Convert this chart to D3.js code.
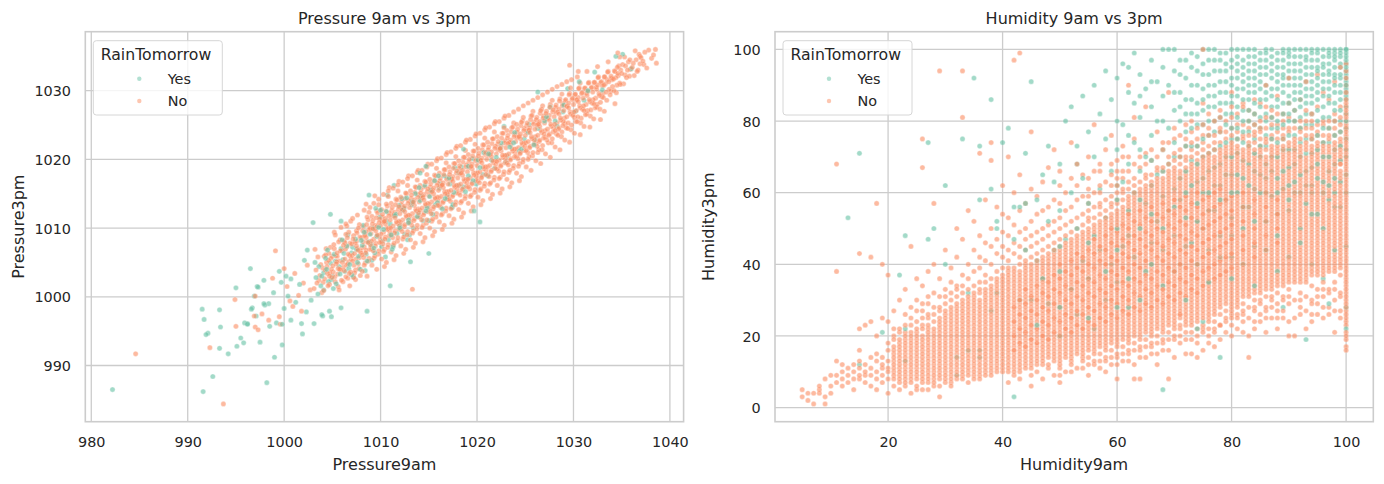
<!DOCTYPE html>
<html>
<head>
<meta charset="utf-8">
<script src="https://cdn.jsdelivr.net/npm/d3@7"></script>
<style>
  body { margin: 0; background: #fff; }
  text { font-family: "DejaVu Sans", sans-serif; fill: #262626; }
</style>
</head>
<body>
<svg width="1384" height="484"></svg>
<script>
// ---- Data ----
const hueLevels = ['Yes', 'No'];

// Pressure panel: [Pressure9am, Pressure3pm]
const pressureYes = [
  [982.2,986.5],[991.6,986.2],[992.6,988.4],[998.2,987.5],[999.0,991.2],[999.8,993.0],[991.5,998.2],[991.7,996.7],
  [991.9,994.5],[992.1,994.7],[993.3,998.1],[993.4,995.6],[993.3,992.5],[994.2,991.7],[995.0,1001.3],[995.1,992.8],
  [995.5,994.0],[995.8,993.3],[995.9,996.2],[996.2,996.1],[996.6,998.2],[997.5,993.4],[997.3,1001.4],[997.9,999.0],
  [998.5,995.7],[998.4,999.0],[999.2,996.2],[1000.0,998.3],[1000.7,996.6],[1001.8,996.1],[1001.9,994.6],[1003.1,996.1],
  [1003.9,997.4],[1004.9,997.1],[1002.3,997.8],[996.5,1004.1],[997.2,1001.5],[997.9,1002.4],[996.9,1000.1],[999.5,1003.7],
  [999.7,1002.1],[1000.7,1002.6],[996.7,998.4],[996.2,996.0],[997.1,997.2],[999.8,996.0],[1004.0,997.2],[1004.7,997.9],
  [1005.9,998.4],[1008.6,997.9],[1011.0,1001.6],[1002.1,1005.3],[1002.4,1006.8],[1003.0,1010.8],[1004.8,1012.0],[1005.9,1011.0],
  [1008.8,1014.8],[1010.7,1014.8],[1011.4,1016.2],[1014.1,1018.0],[1014.7,1019.0],[1015.0,1006.3],[1013.1,1005.1],[1019.7,1012.5],
  [1020.3,1010.9],[998.0,998.8],[1000.4,1000.1],[1001.2,999.2],[1001.6,1001.8],[998.9,1000.6],[1000.2,1003.0],[1002.8,999.5],
  [1003.3,1002.8],[1003.6,1004.4],[1003.8,1001.6],[1004.1,1003.5],[1004.3,1005.6],[1004.6,1002.2],[1004.8,1004.9],[1005.0,1003.0],
  [1005.2,1006.2],[1005.4,1001.9],[1005.7,1004.4],[1005.9,1007.0],[1003.5,1000.4],[1004.5,1006.8],
  [1006.1,1005.4],[1006.3,1003.7],[1006.5,1007.4],[1006.8,1004.7],[1007.0,1006.4],[1007.2,1002.9],[1007.4,1008.4],[1007.7,1005.9],
  [1007.9,1004.0],[1008.1,1007.5],[1008.3,1009.4],[1008.6,1005.2],[1008.8,1008.0],[1006.6,1009.0],[1007.5,1006.9],[1008.4,1003.8],
  [1009.0,1007.6],[1009.2,1010.0],[1009.4,1006.4],[1009.6,1008.8],[1009.9,1011.6],[1010.1,1007.3],[1010.3,1009.8],[1010.6,1012.4],
  [1010.8,1008.3],[1011.0,1010.6],[1011.2,1006.9],[1011.5,1011.8],[1011.7,1009.2],[1009.5,1012.9],[1010.5,1005.8],[1011.9,1013.3],
  [1012.0,1010.4],[1012.3,1012.6],[1012.5,1009.1],[1012.7,1014.4],[1012.9,1011.2],[1013.2,1013.4],[1013.4,1010.0],[1013.6,1015.0],
  [1013.9,1012.2],[1014.1,1014.0],[1014.4,1011.1],[1014.6,1016.2],[1014.8,1013.0],[1012.8,1008.3],
  [1015.1,1014.6],[1015.4,1012.0],[1015.6,1016.9],[1015.9,1013.7],[1016.1,1015.8],[1016.4,1012.8],[1016.6,1017.6],[1016.9,1014.6],
  [1017.2,1016.4],[1017.5,1013.4],[1017.7,1018.8],
  [1018.1,1016.2],[1018.4,1018.9],[1018.8,1015.3],[1019.1,1017.6],[1019.5,1020.1],[1019.9,1016.4],[1020.3,1018.8],[1020.7,1021.0],
  [1021.1,1017.6],[1021.5,1019.9],[1018.6,1021.5],
  [1022.0,1020.3],[1022.5,1022.4],[1023.0,1019.6],[1023.4,1021.8],[1023.9,1023.9],[1024.4,1021.2],[1024.9,1023.0],[1025.4,1025.1],
  [1025.9,1022.1],[1026.3,1024.5],[1026.3,1029.8],[1022.8,1024.8],
  [1027.0,1025.6],[1027.6,1027.6],[1028.3,1024.8],[1028.9,1026.9],[1029.4,1030.3],[1030.6,1031.3],[1031.1,1028.6],[1032.2,1032.7],
  [1033.0,1030.1],[1034.4,1035.0],[1035.1,1035.3],[1036.0,1033.2]
];

const pressureYesBand = [
  [1003.9,1003.0],[1004.4,1004.0],[1004.9,1002.5],[1005.3,1005.2],[1005.8,1003.3],[1006.2,1006.3],[1006.7,1004.1],[1007.1,1007.2],
  [1007.6,1005.0],[1008.0,1008.2],[1008.5,1006.2],[1008.9,1009.1],[1009.3,1007.1],[1009.8,1010.1],[1010.2,1008.1],[1010.6,1011.0],
  [1011.1,1009.0],[1011.6,1012.0],[1012.0,1010.0],[1012.4,1012.9],[1012.9,1010.8],[1013.3,1013.8],[1013.8,1011.7],[1014.2,1014.6],
  [1014.7,1012.5],[1015.2,1015.5],[1015.7,1013.4],[1016.2,1016.4],[1016.7,1014.3],[1017.1,1017.3],[1017.6,1015.2],[1018.1,1018.1],
  [1018.6,1016.0],[1019.1,1019.0],[1019.6,1016.9],[1020.1,1019.9],[1020.6,1017.8],[1021.2,1020.8],[1021.8,1018.7],[1022.4,1021.6],
  [1023.1,1020.5],[1023.8,1022.4],[1024.6,1021.5],[1025.3,1023.9],[1026.0,1022.9],[1027.2,1026.2],[1028.1,1025.6],[1029.0,1027.9],
  [1030.2,1027.0],[1031.5,1030.0],
  [1003.2,1005.0],[1004.1,1001.0],[1005.1,1001.2],[1006.0,1008.3],[1007.0,1003.2],[1008.2,1010.4],[1009.1,1005.3],[1010.0,1012.6],
  [1011.3,1007.3],[1012.2,1014.3],[1013.0,1009.0],[1014.0,1015.9],[1015.0,1011.1],[1016.0,1017.6],[1017.4,1013.0]
];

const pressureNo = [
  [984.6,991.7],[992.3,992.6],[993.7,984.4],[994.9,999.6],[995.0,995.7],[996.9,997.2],[997.0,995.6],[997.3,995.2],
  [997.0,1000.1],[997.7,997.5],[998.4,996.6],[999.5,997.1],[999.6,996.0],[999.1,1006.7],[1000.0,1004.1],[998.8,1002.7],
  [1000.3,1001.5],[1001.1,1003.4],[1000.6,999.4],[1001.5,1000.2],[1002.0,1002.0],[1002.4,1004.6],[1001.8,997.9],[1002.7,1001.0],
  [1000.9,998.6],
  [1003.1,1001.2],[1003.3,1003.9],[1003.5,1005.8],[1003.6,1002.4],[1003.8,1004.7],[1003.9,1000.6],[1003.2,1006.9],[1003.7,1003.1],[1003.4,1002.0],
  [1004.0,1004.2],[1004.2,1002.6],[1004.3,1006.1],[1004.5,1003.4],[1004.6,1005.3],[1004.7,1001.8],[1004.8,1007.2],[1004.9,1004.0],[1004.1,1000.9],[1004.4,1005.0],[1004.7,1003.0],
  [1005.0,1005.9],[1005.1,1003.6],[1005.2,1007.0],[1005.3,1002.2],[1005.4,1004.8],[1005.5,1006.4],[1005.6,1001.5],[1005.7,1005.2],[1005.8,1008.3],[1005.9,1003.9],[1005.3,1009.0],[1005.6,1004.1],
  [1006.0,1006.7],[1006.1,1004.3],[1006.2,1008.1],[1006.3,1005.5],[1006.4,1002.9],[1006.5,1007.3],[1006.6,1004.8],[1006.7,1009.4],[1006.8,1006.0],[1006.9,1003.6],[1006.3,1007.9],[1006.7,1005.1],[1006.5,1010.3],
  [1007.0,1007.7],[1007.1,1005.2],[1007.2,1008.9],[1007.3,1006.3],[1007.4,1003.9],[1007.5,1009.6],[1007.6,1007.0],[1007.7,1004.8],[1007.8,1010.5],[1007.9,1006.6],[1007.2,1002.8],[1007.5,1008.1],[1007.8,1005.7],
  [1008.0,1008.6],[1008.1,1006.1],[1008.2,1010.2],[1008.3,1007.3],[1008.4,1004.9],[1008.5,1009.5],[1008.6,1011.6],[1008.7,1007.9],[1008.8,1005.6],[1008.9,1010.0],[1008.2,1008.0],[1008.5,1006.8],[1008.8,1012.3],[1008.4,1009.0],
  [1009.0,1009.2],[1009.1,1007.0],[1009.2,1011.1],[1009.3,1008.4],[1009.4,1005.9],[1009.5,1010.4],[1009.6,1012.5],[1009.7,1008.9],[1009.8,1006.7],[1009.9,1011.3],[1009.2,1009.9],[1009.5,1007.8],[1009.8,1013.4],[1009.6,1010.2],
  [1010.0,1010.3],[1010.1,1008.0],[1010.2,1012.0],[1010.3,1009.4],[1010.4,1006.9],[1010.5,1011.4],[1010.6,1013.5],[1010.7,1009.8],[1010.8,1007.6],[1010.9,1012.2],[1010.2,1010.9],[1010.5,1008.7],[1010.8,1014.6],[1010.4,1011.0],[1010.9,1010.1],
  [1011.0,1011.2],[1011.1,1009.0],[1011.2,1013.0],[1011.3,1010.3],[1011.4,1007.8],[1011.5,1012.3],[1011.6,1014.2],[1011.7,1010.7],[1011.8,1008.6],[1011.9,1013.1],[1011.2,1011.8],[1011.5,1009.6],[1011.8,1015.4],[1011.4,1012.0],[1011.9,1011.0],
  [1012.0,1012.1],[1012.1,1009.9],[1012.2,1013.9],[1012.3,1011.2],[1012.4,1008.7],[1012.5,1013.2],[1012.6,1015.1],[1012.7,1011.6],[1012.8,1009.5],[1012.9,1014.0],[1012.2,1012.7],[1012.5,1010.5],[1012.8,1016.2],[1012.4,1012.9],[1012.9,1011.9],
  [1013.0,1013.0],[1013.1,1010.8],[1013.2,1014.8],[1013.3,1012.1],[1013.4,1009.6],[1013.5,1014.1],[1013.6,1016.0],[1013.7,1012.5],[1013.8,1010.4],[1013.9,1014.9],[1013.2,1013.6],[1013.5,1011.4],[1013.8,1017.0],[1013.4,1013.8],[1013.9,1012.8],[1013.3,1001.1],
  [1014.0,1013.8],[1014.1,1011.6],[1014.2,1015.6],[1014.3,1012.9],[1014.4,1010.4],[1014.5,1014.9],[1014.6,1016.8],[1014.7,1013.3],[1014.8,1011.2],[1014.9,1015.7],[1014.2,1014.4],[1014.5,1012.2],[1014.8,1017.8],[1014.4,1014.6],[1014.9,1013.6],
  [1015.0,1014.7],[1015.1,1012.5],[1015.2,1016.5],[1015.3,1013.8],[1015.4,1011.3],[1015.5,1015.8],[1015.6,1017.7],[1015.7,1014.2],[1015.8,1012.1],[1015.9,1016.6],[1015.2,1015.3],[1015.5,1013.1],[1015.8,1018.7],[1015.4,1015.5],[1015.9,1014.5],
  [1016.0,1015.5],[1016.1,1013.3],[1016.2,1017.3],[1016.3,1014.6],[1016.4,1012.1],[1016.5,1016.6],[1016.6,1018.5],[1016.7,1015.0],[1016.8,1012.9],[1016.9,1017.4],[1016.2,1016.1],[1016.5,1013.9],[1016.8,1019.5],[1016.4,1016.3],[1016.9,1015.3],
  [1017.0,1016.4],[1017.1,1014.2],[1017.2,1018.2],[1017.3,1015.5],[1017.4,1013.0],[1017.5,1017.5],[1017.6,1019.4],[1017.7,1015.9],[1017.8,1013.8],[1017.9,1018.3],[1017.2,1017.0],[1017.5,1014.8],[1017.8,1020.4],[1017.4,1017.2],[1017.9,1016.2],
  [1018.0,1017.3],[1018.1,1015.1],[1018.2,1019.1],[1018.3,1016.4],[1018.4,1013.9],[1018.5,1018.4],[1018.6,1020.3],[1018.7,1016.8],[1018.8,1014.7],[1018.9,1019.2],[1018.2,1017.9],[1018.5,1015.7],[1018.8,1021.3],[1018.4,1018.1],[1018.9,1017.1],
  [1019.0,1018.2],[1019.1,1016.0],[1019.2,1020.0],[1019.3,1017.3],[1019.4,1014.8],[1019.5,1019.3],[1019.6,1021.2],[1019.7,1017.7],[1019.8,1015.6],[1019.9,1020.1],[1019.2,1018.8],[1019.5,1016.6],[1019.8,1022.2],[1019.4,1019.0],[1019.9,1018.0],
  [1020.0,1019.1],[1020.1,1016.9],[1020.2,1020.9],[1020.3,1018.2],[1020.4,1015.7],[1020.5,1020.2],[1020.6,1022.1],[1020.7,1018.6],[1020.8,1016.5],[1020.9,1021.0],[1020.2,1019.7],[1020.5,1017.5],[1020.8,1023.1],[1020.4,1019.9],[1020.9,1018.9],
  [1021.0,1020.0],[1021.1,1017.8],[1021.2,1021.8],[1021.3,1019.1],[1021.4,1016.6],[1021.5,1021.1],[1021.6,1023.0],[1021.7,1019.5],[1021.8,1017.4],[1021.9,1021.9],[1021.2,1020.6],[1021.5,1018.4],[1021.8,1024.0],[1021.4,1020.8],[1021.9,1019.8],
  [1022.0,1020.8],[1022.1,1018.6],[1022.2,1022.6],[1022.3,1019.9],[1022.4,1017.4],[1022.5,1021.9],[1022.6,1023.8],[1022.7,1020.3],[1022.8,1018.2],[1022.9,1022.7],[1022.2,1021.4],[1022.5,1019.2],[1022.8,1024.6],[1022.4,1021.6],[1022.9,1020.6],
  [1023.0,1021.7],[1023.1,1019.5],[1023.2,1023.5],[1023.3,1020.8],[1023.4,1018.4],[1023.5,1022.8],[1023.6,1024.6],[1023.7,1021.2],[1023.8,1019.1],[1023.9,1023.6],[1023.2,1022.3],[1023.5,1020.1],[1023.8,1025.3],[1023.4,1022.5],[1023.9,1021.5],
  [1024.0,1022.6],[1024.1,1020.4],[1024.2,1024.4],[1024.3,1021.7],[1024.4,1019.4],[1024.5,1023.7],[1024.6,1025.4],[1024.7,1022.1],[1024.8,1020.0],[1024.9,1024.5],[1024.2,1023.2],[1024.5,1021.0],[1024.8,1026.1],[1024.4,1023.4],[1024.9,1022.4],
  [1025.0,1023.5],[1025.1,1021.3],[1025.2,1025.3],[1025.3,1022.6],[1025.4,1020.4],[1025.5,1024.6],[1025.6,1026.3],[1025.7,1023.0],[1025.8,1021.0],[1025.9,1025.4],[1025.2,1024.1],[1025.5,1021.9],[1025.8,1027.0],[1025.4,1024.3],
  [1026.0,1024.4],[1026.1,1022.3],[1026.2,1026.1],[1026.3,1023.5],[1026.4,1021.4],[1026.5,1025.5],[1026.6,1027.1],[1026.7,1023.9],[1026.8,1022.0],[1026.9,1026.3],[1026.2,1025.0],[1026.5,1022.8],[1026.8,1027.8],[1026.4,1025.2],
  [1027.0,1025.3],[1027.1,1023.2],[1027.2,1027.0],[1027.3,1024.4],[1027.4,1022.4],[1027.5,1026.4],[1027.6,1028.0],[1027.7,1024.8],[1027.8,1023.0],[1027.9,1027.2],[1027.2,1025.9],[1027.5,1023.7],[1027.8,1028.6],
  [1028.0,1026.2],[1028.1,1024.2],[1028.2,1027.9],[1028.3,1025.3],[1028.4,1023.5],[1028.5,1027.3],[1028.6,1028.8],[1028.7,1025.7],[1028.8,1024.0],[1028.9,1028.1],[1028.2,1026.8],[1028.5,1024.6],[1028.8,1029.5],
  [1029.0,1027.1],[1029.1,1025.2],[1029.2,1028.7],[1029.3,1026.2],[1029.4,1024.5],[1029.5,1028.2],[1029.6,1029.6],[1029.7,1026.6],[1029.8,1025.0],[1029.9,1028.9],[1029.3,1027.7],[1029.7,1030.4],[1029.6,1033.7],
  [1030.0,1028.0],[1030.1,1026.1],[1030.2,1029.5],[1030.3,1027.1],[1030.4,1025.5],[1030.5,1029.0],[1030.6,1030.4],[1030.7,1027.5],[1030.8,1026.0],[1030.9,1029.7],[1030.3,1028.6],[1030.7,1031.1],[1030.5,1032.8],
  [1031.0,1028.9],[1031.1,1027.1],[1031.2,1030.4],[1031.3,1028.0],[1031.4,1026.6],[1031.5,1029.9],[1031.6,1031.2],[1031.7,1028.4],[1031.8,1027.2],[1031.9,1030.5],[1031.4,1029.3],
  [1032.0,1029.8],[1032.1,1028.1],[1032.2,1031.2],[1032.3,1028.9],[1032.4,1027.6],[1032.5,1030.8],[1032.6,1032.0],[1032.7,1029.3],[1032.8,1028.3],[1032.9,1031.3],[1032.4,1030.2],
  [1033.0,1030.7],[1033.1,1029.0],[1033.2,1032.0],[1033.4,1029.8],[1033.5,1031.6],[1033.6,1032.8],[1033.7,1030.2],[1033.8,1029.4],[1033.9,1032.1],[1033.3,1031.0],
  [1034.0,1031.6],[1034.2,1030.0],[1034.3,1032.8],[1034.5,1030.8],[1034.6,1032.5],[1034.7,1033.6],[1034.8,1031.1],[1034.9,1033.0],[1034.4,1031.9],[1034.6,1035.5],
  [1035.0,1032.5],[1035.2,1031.0],[1035.4,1033.6],[1035.5,1031.9],[1035.7,1034.2],[1035.8,1032.1],[1035.9,1033.1],[1035.3,1034.9],
  [1036.1,1033.4],[1036.3,1032.2],[1036.5,1034.5],[1036.7,1033.0],[1036.8,1035.3],[1036.4,1035.8],[1036.9,1033.9],
  [1037.2,1034.3],[1037.4,1035.6],[1037.6,1033.3],[1037.8,1035.9],[1038.1,1034.7],[1038.3,1035.2],[1038.6,1034.0],[1038.5,1036.0]
];

const pressureNoBand = [
  [1004.05,1002.1],[1004.15,1005.9],[1004.25,1003.9],[1004.35,1007.0],[1004.45,1004.4],[1004.55,1001.6],[1004.65,1006.3],[1004.75,1003.5],[1004.85,1005.6],[1004.95,1002.8],
  [1005.05,1004.5],[1005.15,1007.6],[1005.25,1002.9],[1005.35,1006.0],[1005.45,1005.1],[1005.55,1003.3],[1005.65,1008.0],[1005.75,1004.0],[1005.85,1006.7],[1005.95,1002.4],[1005.5,1005.9],
  [1006.05,1005.0],[1006.15,1007.5],[1006.25,1003.8],[1006.35,1006.9],[1006.45,1004.6],[1006.55,1008.6],[1006.65,1006.2],[1006.75,1003.4],[1006.85,1007.8],[1006.95,1005.5],[1006.4,1009.1],[1006.6,1002.7],
  [1007.05,1006.0],[1007.15,1008.4],[1007.25,1004.6],[1007.35,1007.9],[1007.45,1005.5],[1007.55,1009.3],[1007.65,1006.8],[1007.75,1004.1],[1007.85,1008.7],[1007.95,1006.4],[1007.3,1003.5],[1007.7,1010.0],[1007.5,1007.4],
  [1008.05,1007.1],[1008.15,1009.6],[1008.25,1005.7],[1008.35,1008.9],[1008.45,1006.4],[1008.55,1010.5],[1008.65,1008.0],[1008.75,1005.2],[1008.85,1009.8],[1008.95,1007.5],[1008.3,1004.6],[1008.7,1011.2],[1008.5,1008.6],[1008.9,1006.9],
  [1009.05,1008.1],[1009.15,1010.6],[1009.25,1006.7],[1009.35,1009.9],[1009.45,1007.4],[1009.55,1011.5],[1009.65,1009.0],[1009.75,1006.2],[1009.85,1010.8],[1009.95,1008.5],[1009.3,1005.6],[1009.7,1012.2],[1009.5,1009.6],[1009.9,1007.9],[1009.1,1011.7],
  [1010.05,1009.1],[1010.15,1011.6],[1010.25,1007.7],[1010.35,1010.9],[1010.45,1008.4],[1010.55,1012.5],[1010.65,1010.0],[1010.75,1007.2],[1010.85,1011.8],[1010.95,1009.5],[1010.3,1006.6],[1010.7,1013.2],[1010.5,1010.6],[1010.9,1008.9],[1010.1,1012.7],
  [1011.05,1010.0],[1011.15,1012.5],[1011.25,1008.6],[1011.35,1011.8],[1011.45,1009.3],[1011.55,1013.4],[1011.65,1010.9],[1011.75,1008.1],[1011.85,1012.7],[1011.95,1010.4],[1011.3,1007.5],[1011.7,1014.1],[1011.5,1011.5],[1011.9,1009.8],[1011.1,1013.6],
  [1012.05,1010.9],[1012.15,1013.4],[1012.25,1009.5],[1012.35,1012.7],[1012.45,1010.2],[1012.55,1014.3],[1012.65,1011.8],[1012.75,1009.0],[1012.85,1013.6],[1012.95,1011.3],[1012.3,1008.4],[1012.7,1015.0],[1012.5,1012.4],[1012.9,1010.7],[1012.1,1014.5],
  [1013.05,1011.8],[1013.15,1014.3],[1013.25,1010.4],[1013.35,1013.6],[1013.45,1011.1],[1013.55,1015.2],[1013.65,1012.7],[1013.75,1009.9],[1013.85,1014.5],[1013.95,1012.2],[1013.3,1009.3],[1013.7,1015.9],[1013.5,1013.3],[1013.9,1011.6],[1013.1,1015.4],
  [1014.05,1012.6],[1014.15,1015.1],[1014.25,1011.2],[1014.35,1014.4],[1014.45,1011.9],[1014.55,1016.0],[1014.65,1013.5],[1014.75,1010.7],[1014.85,1015.3],[1014.95,1013.0],[1014.3,1010.1],[1014.7,1016.7],[1014.5,1014.1],[1014.9,1012.4],[1014.1,1016.2],
  [1015.05,1013.5],[1015.15,1016.0],[1015.25,1012.1],[1015.35,1015.3],[1015.45,1012.8],[1015.55,1016.9],[1015.65,1014.4],[1015.75,1011.6],[1015.85,1016.2],[1015.95,1013.9],[1015.3,1011.0],[1015.7,1017.6],[1015.5,1015.0],[1015.9,1013.3],[1015.1,1017.1],
  [1016.05,1014.4],[1016.15,1016.9],[1016.25,1013.0],[1016.35,1016.2],[1016.45,1013.7],[1016.55,1017.8],[1016.65,1015.3],[1016.75,1012.5],[1016.85,1017.1],[1016.95,1014.8],[1016.3,1011.9],[1016.7,1018.5],[1016.5,1015.9],[1016.9,1014.2],[1016.1,1018.0],
  [1017.05,1015.3],[1017.15,1017.8],[1017.25,1013.9],[1017.35,1017.1],[1017.45,1014.6],[1017.55,1018.7],[1017.65,1016.2],[1017.75,1013.4],[1017.85,1018.0],[1017.95,1015.7],[1017.3,1012.8],[1017.7,1019.4],[1017.5,1016.8],[1017.9,1015.1],[1017.1,1018.9],
  [1018.05,1016.2],[1018.15,1018.7],[1018.25,1014.8],[1018.35,1018.0],[1018.45,1015.5],[1018.55,1019.6],[1018.65,1017.1],[1018.75,1014.3],[1018.85,1018.9],[1018.95,1016.6],[1018.3,1013.7],[1018.7,1020.3],[1018.5,1017.7],[1018.9,1016.0],[1018.1,1019.8],
  [1019.05,1017.1],[1019.15,1019.6],[1019.25,1015.7],[1019.35,1018.9],[1019.45,1016.4],[1019.55,1020.5],[1019.65,1018.0],[1019.75,1015.2],[1019.85,1019.8],[1019.95,1017.5],[1019.3,1014.6],[1019.7,1021.2],[1019.5,1018.6],[1019.9,1016.9],[1019.1,1020.7],
  [1020.05,1018.0],[1020.15,1020.5],[1020.25,1016.6],[1020.35,1019.8],[1020.45,1017.3],[1020.55,1021.4],[1020.65,1018.9],[1020.75,1016.1],[1020.85,1020.7],[1020.95,1018.4],[1020.3,1015.5],[1020.7,1022.1],[1020.5,1019.5],[1020.9,1017.8],[1020.1,1021.6],
  [1021.05,1018.9],[1021.15,1021.4],[1021.25,1017.5],[1021.35,1020.7],[1021.45,1018.2],[1021.55,1022.3],[1021.65,1019.8],[1021.75,1017.0],[1021.85,1021.6],[1021.95,1019.3],[1021.3,1016.4],[1021.7,1023.0],[1021.5,1020.4],[1021.9,1018.7],[1021.1,1022.5],
  [1022.05,1019.7],[1022.15,1022.2],[1022.25,1018.3],[1022.35,1021.5],[1022.45,1019.0],[1022.55,1023.1],[1022.65,1020.6],[1022.75,1017.8],[1022.85,1022.4],[1022.95,1020.1],[1022.3,1017.2],[1022.7,1023.8],[1022.5,1021.2],[1022.9,1019.5],[1022.1,1023.3],
  [1023.05,1020.6],[1023.15,1023.1],[1023.25,1019.2],[1023.35,1022.4],[1023.45,1019.9],[1023.55,1024.0],[1023.65,1021.5],[1023.75,1018.7],[1023.85,1023.3],[1023.95,1021.0],[1023.3,1018.1],[1023.7,1024.7],[1023.5,1022.1],[1023.9,1020.4],[1023.1,1024.2],
  [1024.05,1021.5],[1024.15,1024.0],[1024.25,1020.1],[1024.35,1023.3],[1024.45,1020.8],[1024.55,1024.9],[1024.65,1022.4],[1024.75,1019.6],[1024.85,1024.2],[1024.95,1021.9],[1024.3,1019.0],[1024.7,1025.6],[1024.5,1023.0],[1024.9,1021.3],[1024.1,1025.1],
  [1025.05,1022.4],[1025.15,1024.9],[1025.25,1021.0],[1025.35,1024.2],[1025.45,1021.7],[1025.55,1025.8],[1025.65,1023.3],[1025.75,1020.5],[1025.85,1025.1],[1025.95,1022.8],[1025.3,1020.0],[1025.7,1026.4],[1025.5,1023.9],[1025.9,1022.2],
  [1026.05,1023.3],[1026.15,1025.8],[1026.25,1021.9],[1026.35,1025.1],[1026.45,1022.6],[1026.55,1026.7],[1026.65,1024.2],[1026.75,1021.4],[1026.85,1026.0],[1026.95,1023.7],[1026.3,1021.0],[1026.7,1027.3],[1026.5,1024.8],[1026.9,1023.1],
  [1027.05,1024.2],[1027.15,1026.7],[1027.25,1022.8],[1027.35,1026.0],[1027.45,1023.5],[1027.55,1027.6],[1027.65,1025.1],[1027.75,1022.4],[1027.85,1026.9],[1027.95,1024.6],[1027.5,1025.7],[1027.9,1024.0],
  [1028.05,1025.1],[1028.15,1027.6],[1028.25,1023.7],[1028.35,1026.9],[1028.45,1024.4],[1028.55,1028.5],[1028.65,1026.0],[1028.75,1023.3],[1028.85,1027.8],[1028.95,1025.5],[1028.5,1026.6],[1028.9,1024.9],
  [1029.05,1026.0],[1029.15,1028.5],[1029.25,1024.6],[1029.35,1027.8],[1029.45,1025.3],[1029.55,1029.4],[1029.65,1026.9],[1029.75,1024.3],[1029.85,1028.7],[1029.95,1026.4],[1029.5,1027.5],
  [1030.05,1026.9],[1030.15,1029.4],[1030.25,1025.5],[1030.35,1028.7],[1030.45,1026.2],[1030.55,1030.3],[1030.65,1027.8],[1030.75,1025.3],[1030.85,1029.6],[1030.95,1027.3],[1030.5,1028.4],
  [1031.05,1027.8],[1031.15,1030.3],[1031.25,1026.5],[1031.35,1029.6],[1031.45,1027.1],[1031.55,1031.1],[1031.65,1028.7],[1031.75,1026.3],[1031.85,1030.4],[1031.95,1028.2],
  [1032.05,1028.7],[1032.15,1031.2],[1032.25,1027.5],[1032.35,1030.5],[1032.45,1028.0],[1032.55,1031.9],[1032.65,1029.6],[1032.75,1027.3],[1032.85,1031.2],[1032.95,1029.1],
  [1033.05,1029.6],[1033.25,1032.0],[1033.45,1028.6],[1033.65,1031.3],[1033.85,1029.9],[1033.55,1032.7],[1033.15,1030.8],[1033.95,1031.8],
  [1034.05,1030.6],[1034.25,1032.9],[1034.45,1029.7],[1034.65,1032.2],[1034.85,1030.9],[1034.55,1033.4],[1034.15,1031.7],
  [1035.1,1033.8],[1035.35,1032.3],[1035.6,1033.0],[1035.85,1034.5],[1036.2,1034.0],[1036.6,1032.8],[1036.9,1035.0],[1037.3,1033.8],[1037.0,1034.8]
];

// outer rim of the pressure band
const pressureNoEdge = [
  [1005.2,1009.4],[1005.7,1001.0],[1005.9,1010.1],[1006.1,1002.2],[1006.4,1010.6],[1006.8,1001.6],[1006.9,1011.0],
  [1007.1,1011.4],[1007.4,1002.5],[1007.6,1011.9],[1007.9,1003.1],[1008.1,1003.7],[1008.3,1012.6],[1008.6,1003.0],[1008.9,1013.0],[1008.5,1013.5],
  [1009.1,1004.6],[1009.3,1013.6],[1009.6,1004.0],[1009.8,1014.2],[1009.4,1014.7],
  [1010.1,1005.5],[1010.3,1014.9],[1010.6,1005.0],[1010.8,1015.4],[1010.4,1004.4],[1010.9,1015.9],
  [1011.1,1006.5],[1011.3,1015.8],[1011.6,1006.0],[1011.8,1016.3],[1011.4,1005.4],[1011.9,1016.8],
  [1012.1,1007.4],[1012.3,1016.7],[1012.6,1006.9],[1012.8,1017.2],[1012.4,1006.3],[1012.9,1017.6],
  [1013.1,1008.3],[1013.3,1017.6],[1013.6,1007.8],[1013.8,1018.1],[1013.4,1007.2],[1013.9,1018.4],
  [1014.1,1009.2],[1014.3,1018.4],[1014.6,1008.6],[1014.8,1018.9],[1014.4,1008.0],[1014.9,1019.3],
  [1015.1,1010.0],[1015.3,1019.3],[1015.6,1009.5],[1015.8,1019.8],[1015.4,1008.9],[1015.9,1020.1],
  [1016.1,1010.9],[1016.3,1020.2],[1016.6,1010.4],[1016.8,1020.7],[1016.4,1009.8],[1016.9,1021.0],
  [1017.1,1011.8],[1017.3,1021.1],[1017.6,1011.3],[1017.8,1021.6],[1017.4,1010.7],[1017.9,1021.9],
  [1018.1,1012.7],[1018.3,1022.0],[1018.6,1012.2],[1018.8,1022.5],[1018.4,1011.6],[1018.9,1022.8],
  [1019.1,1013.6],[1019.3,1022.9],[1019.6,1013.1],[1019.8,1023.4],[1019.4,1012.5],[1019.9,1023.7],
  [1020.1,1014.5],[1020.3,1023.8],[1020.6,1014.0],[1020.8,1024.3],[1020.4,1013.4],[1020.9,1024.6],
  [1021.1,1015.4],[1021.3,1024.7],[1021.6,1014.9],[1021.8,1025.2],[1021.4,1014.3],[1021.9,1025.5],
  [1022.1,1016.2],[1022.3,1025.5],[1022.6,1015.7],[1022.8,1026.0],[1022.4,1015.1],[1022.9,1026.3],
  [1023.1,1017.1],[1023.3,1026.4],[1023.6,1016.6],[1023.8,1026.9],[1023.4,1016.0],
  [1024.1,1018.0],[1024.3,1027.3],[1024.6,1017.5],[1024.8,1027.8],[1024.4,1016.9],
  [1025.1,1018.9],[1025.3,1028.2],[1025.6,1018.4],[1025.8,1028.6],[1026.1,1019.8],[1026.3,1029.0],[1026.6,1019.4],[1026.8,1029.4],
  [1027.1,1020.8],[1027.3,1029.8],[1027.6,1020.3],[1027.8,1030.2],[1028.1,1021.8],[1028.3,1030.6],[1028.6,1021.4],[1028.8,1030.9],
  [1029.1,1022.8],[1029.3,1031.3],[1029.6,1022.5],[1029.8,1031.6],[1030.1,1023.8],[1030.4,1032.0],[1030.7,1023.6],
  [1031.1,1024.8],[1031.4,1032.8],[1031.7,1024.7],[1032.1,1025.9],[1032.5,1033.5],[1032.8,1025.8],
  [1033.2,1027.0],[1033.6,1034.2],[1034.3,1028.1],[1034.8,1034.9]
];

// Humidity panel: [Humidity9am, Humidity3pm values seen in that column]
const humidityYes = [
  [13,[53]],[15,[12,71]],[19,[21]],[22,[37]],[23,[13,22,48]],[27,[47,74]],[28,[50]],[30,[40,62]],[32,[9,14]],
  [33,[75]],[34,[16,32]],[35,[92]],[36,[14,16,58,73]],[38,[27,61,86]],[39,[32,50,52]],[40,[74]],[41,[78]],
  [42,[3,47,56]],[43,[30,56]],[44,[44,57,71]],[45,[91]],[46,[23,41,58]],[47,[36,65]],[48,[29,52,73]],[49,[44,63]],
  [50,[20,38,55,68]],[51,[47,80]],[52,[33,60,84]],[53,[26,50,68,73]],[54,[41,64,87]],[55,[36,57,77]],
  [56,[22,48,70,90]],[57,[44,61,82]],[58,[30,53,75,94]],[59,[40,66,86]],[60,[35,50,58,72,92]],[61,[45,63,79,96]],
  [62,[28,55,68,88]],[63,[42,60,74,85,99]],[64,[50,66,81,93]],[65,[38,57,70,89]],[66,[46,62,76,84,97]],
  [67,[52,65,80,91]],[68,[5,44,59,72,87,95]],[69,[55,68,78,90,100]],[70,[48,61,74,83,94]],[71,[40,58,70,80,88,97]],
  [72,[53,66,77,86,92]],[73,[46,62,73,82,90,99]],[74,[22,57,68,79,85,94]],[75,[24,50,64,75,83,89,96]],
  [76,[44,60,71,80,87,93,100]],[77,[55,67,77,84,90,97]],[78,[14,48,62,73,81,88,94,99]],[79,[58,70,79,85,91,96]],
  [80,[42,53,65,75,82,87,92,97,100]],[81,[60,71,78,84,89,94,98]],[82,[50,64,74,80,86,91,95,100]],
  [83,[56,68,77,83,88,92,96]],[84,[45,61,71,79,85,90,94,98]],[85,[65,73,81,86,91,95,99]],
  [86,[52,68,76,82,88,93,97,100]],[87,[59,70,78,84,89,94,98]],[88,[48,64,74,80,86,91,95,99]],
  [89,[28,61,72,79,85,90,93,97,100]],[90,[55,67,76,82,87,92,96,99]],[91,[63,72,80,86,90,94,98]],
  [92,[50,60,70,78,84,88,92,96,100]],[93,[19,57,66,75,82,87,91,95,98]],[94,[62,71,79,85,89,93,97,100]],
  [95,[54,68,76,83,88,92,95,99]],[96,[60,70,78,84,89,93,96,100]],[97,[29,58,66,74,81,87,91,94,98,100]],
  [98,[64,72,80,85,90,93,97,99]],[99,[56,69,77,83,88,92,95,98,100]],
  [100,[22,28,45,60,70,78,82,86,89,91,93,95,97,98,99,100]]
];

const humidityYesTop = [
  [60,[62,80]],[62,[76,95]],[64,[72,87]],[66,[69,91]],[68,[66,80,100]],[70,[70,88,100]],[71,[64,84,93]],
  [72,[60,73,82,97]],[73,[69,78,86,95]],[74,[63,73,82,90,98]],[75,[60,70,79,86,93,100]],[76,[66,76,84,90,97]],
  [77,[62,72,80,87,94,100]],[78,[68,77,85,91,97]],[79,[65,74,82,88,94,99]],[80,[60,70,78,85,90,95]],
  [81,[65,75,81,87,92,96,100]],[82,[69,77,83,89,93,97]],[83,[62,73,80,86,90,94,98,100]],[84,[66,75,82,88,92,96,100]],
  [85,[60,70,78,84,89,93,97]],[86,[64,73,80,86,90,95,99]],[87,[66,75,81,87,92,96,100]],[88,[60,70,78,84,89,93,97]],
  [89,[66,75,82,88,92,95,99]],[90,[62,72,80,85,90,94,98,100]],[91,[60,68,76,83,88,92,96,100]],[92,[65,74,81,86,90,94,98]],
  [93,[62,71,79,85,89,93,97,100]],[94,[60,67,75,82,87,91,95,99]],[95,[64,72,80,86,90,94,97,100]],[96,[63,74,81,87,91,95,98]],
  [97,[62,70,78,85,89,93,96,99]],[98,[60,68,76,83,88,92,95,98,100]],[99,[63,73,80,86,90,93,96,99]],
  [100,[65,72,75,80,84,87,88,90,92,94,96,100]]
];

const humidityYesMid = [
  [45,[30]],[50,[28,45]],[55,[25,46]],[58,[38]],[60,[28,44]],[62,[36,48]],[64,[30,58]],[66,[40,54]],[68,[34,50]],
  [70,[38,56]],[72,[30,45]],[74,[40,52]],[76,[35,55]],[78,[42,58]],[80,[36,48]],[82,[40,56]],[84,[34,52]],
  [86,[44,60]],[88,[38,54]],[90,[42,58]],[92,[46]],[94,[40,54]],[96,[36,50]],[98,[44,56]]
];

const humidityNo = [
  [5,[3,5]],[6,[2,4]],[7,[1,4]],[8,[4,5,6]],[9,[1,3,8]],[10,[4,6,9]],[11,[7,9,13,38,68]],[12,[6,8,10,12]],
  [13,[7,9,11]],[14,[5,8,10,12]],[15,[8,9,11,13,16,22,43]],[16,[7,9,10,12,23]],[17,[6,9,11,14,24,42]],
  [18,[5,8,10,13,15,20,57]],[19,[7,9,11,12,14,25,40]],[20,[4,8,10,11,13,16,18,24,37]],
  [21,[6,9,11,12,14,17,20,27]],[22,[5,8,10,13,15,16,19,22,30]],[23,[7,9,11,12,14,17,18,21,26,33]],
  [24,[4,8,10,13,15,16,19,20,23,28,45]],[25,[6,9,11,12,14,17,18,21,24,30,36]],
  [26,[5,8,10,13,15,16,19,22,25,27,34,67,75]],[27,[7,9,11,12,14,17,18,20,23,26,29,38]],
  [28,[6,8,10,13,15,16,19,21,24,28,32,40,57]],[29,[3,9,11,12,14,17,18,20,22,25,27,31,36,94]],
  [30,[7,10,12,13,15,16,19,21,23,26,29,33,44]],[31,[6,8,11,13,14,16,18,20,22,24,27,30,35,39]],
  [32,[9,10,12,15,17,19,20,22,25,28,31,34,42,50]],[33,[8,11,13,14,16,18,21,23,24,26,29,32,37,47,81,94]],
  [34,[7,10,12,15,17,19,20,22,25,27,30,33,36,40,55]],[35,[9,11,13,14,16,18,21,23,26,28,31,34,38,44,52]],
  [36,[8,12,15,17,19,20,22,24,27,29,32,35,39,42,48,71]],[37,[10,13,14,16,18,21,23,25,26,28,30,33,37,41,46,58]],
  [38,[9,12,15,17,19,20,22,24,27,29,31,34,36,40,45,50,69,74]],[39,[11,14,16,18,21,23,25,26,28,30,32,35,38,43,47,56]],
  [40,[10,13,15,17,19,20,22,24,27,29,31,33,36,39,42,45,49,54,62]],
  [41,[7,11,13,15,17,19,21,22,24,26,28,30,33,35,38,41,44,48,53,70]],
  [42,[9,12,14,16,18,20,23,25,27,29,31,34,36,39,43,46,51,60,97]],
  [43,[8,10,13,15,17,19,21,24,26,28,30,32,35,37,40,42,45,49,55,65,99]],
  [44,[11,14,16,18,20,22,25,27,29,31,33,36,38,41,44,47,50,57]],
  [45,[6,9,12,15,17,19,21,23,26,28,30,32,34,37,39,42,45,48,52,61,77]],
  [46,[10,13,16,18,20,22,24,27,29,31,33,35,38,40,43,46,49,54,59]],
  [47,[8,12,14,17,19,21,23,25,28,30,32,34,36,39,41,44,47,50,55,63]],
  [48,[11,15,18,20,22,24,26,29,31,33,35,37,40,42,45,48,51,56,67]],
  [49,[9,13,16,19,21,23,25,27,30,32,34,36,38,41,43,46,49,52,58,72]],
  [50,[7,12,15,17,20,22,24,26,28,31,33,35,37,39,42,44,47,50,53,57,62,66]],
  [51,[10,14,18,21,23,25,27,29,32,34,36,38,40,43,45,48,51,55,60]],
  [52,[13,16,19,22,24,26,28,30,33,35,37,39,41,44,46,49,52,56,64,74]],
  [53,[11,15,18,20,23,25,27,29,31,34,36,38,40,42,45,47,50,53,58,62,68]],
  [54,[14,17,21,24,26,28,30,32,35,37,39,41,43,46,48,51,54,59,65]],
  [55,[12,16,19,22,25,27,29,31,33,36,38,40,42,44,47,49,52,55,57,61,70]],
  [56,[15,18,21,23,26,28,30,32,34,37,39,41,43,45,48,50,53,56,60,66,79]],
  [57,[13,17,20,24,27,29,31,33,35,38,40,42,44,46,49,51,54,57,62,68]],
  [58,[10,16,19,22,25,28,30,32,34,36,39,41,43,45,47,50,52,55,58,63,72]],
  [59,[14,18,21,24,26,29,31,33,35,37,40,42,44,46,48,51,53,56,59,65,76]],
  [60,[8,12,17,20,23,25,27,30,32,34,36,38,41,43,45,47,49,52,54,57,60,64,69]],
  [61,[15,19,22,26,28,31,33,35,37,39,42,44,46,48,50,53,55,58,61,66,73]],
  [62,[13,18,21,24,27,29,32,34,36,38,40,43,45,47,49,51,54,56,59,63,70,90]],
  [63,[8,16,20,23,26,28,30,33,35,37,39,41,44,46,48,50,52,55,57,60,64,75,81]],
  [64,[8,14,19,22,25,27,29,31,34,36,38,40,42,45,47,49,51,53,56,58,61,67]],
  [65,[17,21,24,27,30,32,35,37,39,41,43,46,48,50,52,54,57,59,62,65,71,84]],
  [66,[15,20,23,26,28,31,33,36,38,40,42,44,47,49,51,53,55,58,60,63,69]],
  [67,[12,18,22,25,29,32,34,37,39,41,43,45,48,50,52,54,56,59,61,64,67,77]],
  [68,[16,21,24,27,30,33,35,38,40,42,44,46,49,51,53,55,57,60,62,66,72]],
  [69,[8,19,23,26,29,31,34,36,39,41,43,45,47,50,52,54,56,58,61,63,68,74,88]],
  [70,[14,20,25,28,30,32,35,37,40,42,44,46,48,51,53,55,57,59,62,64,67,71,78]],
  [71,[18,22,26,29,33,36,38,41,43,45,47,49,52,54,56,58,60,63,65,70]],
  [72,[15,21,24,27,31,34,37,39,42,44,46,48,50,53,55,57,59,61,64,66,69,75]],
  [73,[15,19,23,28,32,35,38,40,43,45,47,49,51,54,56,58,60,62,65,67,72,80]],
  [74,[14,18,22,26,30,33,36,39,41,44,46,48,50,52,55,57,59,61,63,66,68,73]],
  [75,[16,21,25,29,31,34,37,40,42,45,47,49,51,53,56,58,60,62,64,67,70,76,85,100]],
  [76,[18,20,24,27,32,35,38,41,43,46,48,50,52,54,57,59,61,63,65,68,71,78]],
  [77,[17,22,26,30,33,36,39,42,44,47,49,51,53,55,58,60,62,64,66,69,74]],
  [78,[19,23,28,31,34,37,40,43,45,48,50,52,54,56,59,61,63,65,67,70,72,77,83]],
  [79,[21,25,29,32,35,38,41,44,46,49,51,53,55,57,60,62,64,66,68,71,75]],
  [80,[23,25,28,30,33,36,39,42,45,47,50,52,54,56,58,61,63,65,67,69,72,76,81,88]],
  [81,[26,29,32,35,38,41,44,47,49,52,54,56,58,60,62,65,67,69,73,79]],
  [82,[24,27,31,34,37,40,43,46,48,51,53,55,57,59,62,64,66,68,71,75,84]],
  [83,[14,20,25,28,33,36,39,42,45,48,50,53,55,57,59,61,64,66,68,70,74,80]],
  [84,[24,27,30,34,37,41,44,47,49,52,54,56,58,61,63,65,67,69,72,77,86]],
  [85,[24,29,32,36,39,42,45,48,51,53,55,57,60,62,64,66,68,71,73,78]],
  [86,[25,28,31,35,38,41,44,47,50,52,54,57,59,61,63,65,67,70,74,81,90]],
  [87,[25,30,33,37,40,43,46,49,51,53,56,58,60,62,64,66,69,72,76,83]],
  [88,[25,29,32,36,39,42,45,48,50,52,55,57,59,61,63,65,68,70,73,79,87]],
  [89,[27,31,34,38,41,44,47,49,51,54,56,58,60,62,64,67,69,71,75,82]],
  [90,[20,29,33,37,40,43,46,48,50,53,55,57,59,61,63,66,68,70,72,77,85,92]],
  [91,[20,25,30,35,39,42,45,48,51,54,56,58,60,62,65,67,69,71,74,80]],
  [92,[28,32,36,40,44,47,50,52,55,57,59,61,64,66,68,70,73,78,86]],
  [93,[22,27,31,35,38,42,46,49,51,53,56,58,60,63,65,67,69,72,76,83,91]],
  [94,[26,30,34,39,43,46,49,52,54,57,59,62,64,66,68,71,75,80]],
  [95,[29,33,37,41,45,48,50,53,55,58,60,62,64,67,69,72,77,84,93]],
  [96,[25,31,35,40,44,47,50,52,55,57,59,62,64,66,69,71,74,79,88]],
  [97,[28,33,38,42,46,49,52,54,56,59,61,63,65,68,70,73,78,86]],
  [98,[21,30,35,39,43,47,50,53,55,57,60,62,64,67,69,72,76,82,91]],
  [99,[27,32,37,41,45,48,51,54,56,58,61,63,65,68,70,73,77,84,95]],
  [100,[16,20,24,27,30,33,35,38,40,42,44,46,48,50,52,54,56,58,60,62,64,66,68,70,72,74,76,78,81,84,88]]
];

const humidityNoCore = [
  [21,[8,10,13,15,16,19,22]],[22,[7,9,11,12,14,17,18,21]],[23,[6,8,10,13,15,16,19,20,23]],
  [24,[7,9,11,12,14,17,18,21,25]],[25,[5,8,10,13,15,16,19,20,22,27]],[26,[7,9,11,12,14,17,18,20,23,29]],
  [27,[5,8,10,13,15,16,19,21,22,25,31]],[28,[7,9,11,12,14,17,18,20,22,26]],[29,[6,8,10,13,15,16,19,21,23,24,28]],
  [30,[8,9,11,14,17,18,20,22,24,25,27,31]],[31,[7,9,10,12,15,17,19,21,23,25,26,28,32]],
  [32,[8,11,13,14,16,18,21,23,24,26,27,29,33]],[33,[9,10,12,15,17,19,20,22,25,27,28,30,34]],
  [34,[9,11,13,14,16,18,21,23,24,26,28,29,31]],[35,[8,10,12,15,17,19,20,22,24,25,27,29,30,32]],
  [36,[9,10,11,13,14,16,18,21,23,25,26,28,30,33]],[37,[9,11,12,15,17,19,20,22,24,27,29,31,32,35]],
  [38,[10,11,13,14,16,18,21,23,25,26,28,30,32,33]],[39,[10,12,13,15,17,19,20,22,24,27,29,31,33,34,36]],
  [40,[11,12,14,16,18,21,23,25,26,28,30,32,34,35,37]],
  [41,[10,12,14,16,18,20,23,25,27,29,31,32,34,36,37,39]],
  [42,[10,11,13,15,17,19,21,22,24,26,28,30,32,33,35,37,38]],
  [43,[11,12,14,16,18,20,22,23,25,27,29,31,33,34,36,38]],
  [44,[12,13,15,17,19,21,23,24,26,28,30,32,34,35,37,39,40]],
  [45,[11,13,14,16,18,20,22,24,25,27,29,31,33,35,36,38,40]],
  [46,[12,14,15,17,19,21,23,25,26,28,30,32,34,36,37,39,41]],
  [47,[13,15,16,18,20,22,24,26,27,29,31,33,35,37,38,40,42]],
  [48,[12,14,16,17,19,21,23,25,27,28,30,32,34,36,38,39,41,43]],
  [49,[14,15,17,18,20,22,24,26,28,29,31,33,35,37,39,40,42,44]],
  [50,[13,14,16,18,19,21,23,25,27,29,30,32,34,36,38,40,41,43,45]],
  [51,[15,16,17,19,20,22,24,26,28,30,31,33,35,37,39,41,42,44,46]],
  [52,[14,15,17,18,20,21,23,25,27,29,31,32,34,36,38,40,42,43,45,47]],
  [53,[16,17,19,21,22,24,26,28,30,32,33,35,37,39,41,43,44,46,48]],
  [54,[15,16,18,19,20,22,23,25,27,29,31,33,34,36,38,40,42,44,45,47,49]],
  [55,[17,18,20,21,23,24,26,28,30,32,34,35,37,39,41,43,45,46,48,50]],
  [56,[16,17,19,20,22,24,25,27,29,31,33,35,36,38,40,42,44,46,47,49,51]],
  [57,[18,19,21,22,23,25,26,28,30,32,34,36,37,39,41,43,45,47,48,50,52]],
  [58,[17,18,20,21,23,24,26,27,29,31,33,35,37,38,40,42,44,46,48,49,51,53]],
  [59,[19,20,22,23,25,27,28,30,32,34,36,38,39,41,43,45,47,49,50,52,54]],
  [60,[18,19,21,22,24,26,28,29,31,33,35,37,39,40,42,44,46,48,50,51,53,55]],
  [61,[20,21,23,24,25,27,29,30,32,34,36,38,40,41,43,45,47,49,51,52,54,56]],
  [62,[19,20,22,23,25,26,28,30,31,33,35,37,39,41,42,44,46,48,50,52,53,55,57]],
  [63,[21,22,24,25,27,29,31,32,34,36,38,40,42,43,45,47,49,51,53,54,56,58]],
  [64,[20,21,23,24,26,28,30,32,33,35,37,39,41,43,44,46,48,50,52,54,55,57,59]],
  [65,[22,23,25,26,28,29,31,33,34,36,38,40,42,44,45,47,49,51,53,55,56,58,60]],
  [66,[21,22,24,25,27,29,30,32,34,35,37,39,41,43,45,46,48,50,52,54,56,57,59,61]],
  [67,[23,24,26,27,28,30,31,33,35,36,38,40,42,44,46,47,49,51,53,55,57,58,60,62]],
  [68,[22,23,25,26,28,29,31,32,34,36,37,39,41,43,45,47,48,50,52,54,56,58,59,61,63]],
  [69,[24,25,27,28,30,32,33,35,37,38,40,42,44,46,48,49,51,53,55,57,59,60,62,64]],
  [70,[23,24,26,27,29,31,33,34,36,38,39,41,43,45,47,49,50,52,54,56,58,60,61,63,65]],
  [71,[25,26,27,28,30,31,32,34,35,37,39,40,42,44,46,48,50,51,53,55,57,59,61,62,64]],
  [72,[26,28,29,30,32,33,35,36,38,40,41,43,45,47,49,51,52,54,56,58,60,62,63,65]],
  [73,[25,26,27,29,30,31,33,34,36,37,39,41,42,44,46,48,50,52,53,55,57,59,61,63,64,66]],
  [74,[27,28,29,31,32,34,35,37,38,40,42,43,45,47,49,51,53,54,56,58,60,62,64,65,67]],
  [75,[26,27,28,30,32,33,35,36,38,39,41,43,44,46,48,50,52,54,55,57,59,61,63,65,66,68]],
  [76,[28,29,30,31,33,34,36,37,39,40,42,44,45,47,49,51,53,55,56,58,60,62,64,66,67,69]],
  [77,[28,29,31,32,34,35,37,38,40,41,43,45,46,48,50,52,54,56,57,59,61,63,65,67,68]],
  [78,[29,30,32,33,35,36,38,39,41,42,44,46,47,49,51,53,55,57,58,60,62,64,66,68,69]],
  [79,[30,31,33,34,36,37,39,40,42,43,45,47,48,50,52,54,56,58,59,61,63,65,67,69,70]],
  [80,[29,31,32,34,35,37,38,40,41,43,44,46,48,49,51,53,55,57,59,60,62,64,66,68,70,71]],
  [81,[30,31,33,34,36,37,39,40,42,43,45,46,48,50,51,53,55,57,59,61,63,64,66,68,70]],
  [82,[32,33,35,36,38,39,41,42,44,45,47,49,50,52,54,56,58,60,61,63,65,67,69]],
  [83,[31,32,34,35,37,38,40,41,43,44,46,47,49,51,52,54,56,58,60,62,63,65,67,69,71]],
  [84,[32,33,35,36,38,39,40,42,43,45,46,48,50,51,53,55,57,59,60,62,64,66,68,70]],
  [85,[33,34,35,37,38,40,41,43,44,46,47,49,50,52,54,56,58,59,61,63,65,67,69]],
  [86,[33,34,36,37,39,40,42,43,45,46,48,49,51,53,55,56,58,60,62,64,66,68]],
  [87,[34,35,36,38,39,41,42,44,45,47,48,50,52,54,55,57,59,61,63,65,67,68,70]],
  [88,[34,35,37,38,40,41,43,44,46,47,49,51,53,54,56,58,60,62,64,66,67,69]],
  [89,[35,36,37,39,40,42,43,45,46,48,50,52,53,55,57,59,61,63,65,66,68,70]],
  [90,[35,36,38,39,41,42,44,45,47,49,51,52,54,56,58,60,62,64,65,67,69]],
  [91,[36,37,38,40,41,43,44,46,47,49,50,52,53,55,57,59,61,63,64,66,68,70]],
  [92,[35,37,38,39,41,42,43,45,46,48,49,51,53,54,56,58,60,62,63,65,67,69]],
  [93,[36,37,39,40,41,43,44,45,47,48,50,52,54,55,57,59,61,62,64,66,68]],
  [94,[37,38,40,41,42,44,45,47,48,50,51,53,55,56,58,60,61,63,65,67,69,70]],
  [95,[38,39,40,42,43,44,46,47,49,51,52,54,56,57,59,61,63,65,66,68,70]],
  [96,[37,38,39,41,42,43,45,46,48,49,51,53,54,56,58,60,61,63,65,67,68]],
  [97,[39,40,41,43,44,45,47,48,50,51,53,55,57,58,60,62,64,66,67,69,71]],
  [98,[38,40,41,42,44,45,46,48,49,51,52,54,56,58,59,61,63,65,66,68,70]],
  [99,[39,40,42,43,44,46,47,49,50,52,53,55,57,59,60,62,64,66,68,69,71]],
  [100,[17,19,21,23,25,26,28,29,31,32,34,36,37,39,41,43,45,47,49,51,53,55,57,59,61,63,65,67,69,71,73,75,77,79,80,82,83,85,86,90,92,94,96]]
];

// repeated readings in the middle of the humidity cloud
const humidityNoDense = [
  [42,[16,20,24,28]],[43,[18,22,26,30]],[44,[17,21,25,29,33]],[45,[19,23,27,31]],[46,[18,22,26,30,34]],
  [47,[20,24,28,32,36]],[48,[19,23,27,31,35]],[49,[21,25,29,33,37]],[50,[20,24,28,32,36,40]],
  [51,[22,26,30,34,38]],[52,[21,25,29,33,37,41]],[53,[23,27,31,35,39,43]],[54,[22,26,30,34,38,42]],
  [55,[24,28,32,36,40,44]],[56,[23,27,31,35,39,43,47]],[57,[25,29,33,37,41,45]],[58,[24,28,32,36,40,44,48]],
  [59,[26,30,34,38,42,46,50]],[60,[25,29,33,37,41,45,49]],[61,[27,31,35,39,43,47,51]],[62,[26,30,34,38,42,46,50,54]],
  [63,[28,32,36,40,44,48,52]],[64,[27,31,35,39,43,47,51,55]],[65,[29,33,37,41,45,49,53]],[66,[28,32,36,40,44,48,52,56]],
  [67,[30,34,38,42,46,50,54]],[68,[29,33,37,41,45,49,53,57]],[69,[31,35,39,43,47,51,55]],[70,[30,34,38,42,46,50,54,58]],
  [71,[32,36,40,44,48,52,56]],[72,[31,35,39,43,47,51,55,59]],[73,[33,37,41,45,49,53,57]],[74,[32,36,40,44,48,52,56,60]],
  [75,[34,38,42,46,50,54,58]],[76,[35,39,43,47,51,55,59]],[77,[36,40,44,48,52,56,60]],[78,[37,41,45,49,53,57,61]],
  [79,[38,42,46,50,54,58]],[80,[39,43,47,51,55,59]],[82,[40,44,48,52,56,60]],[84,[42,46,50,54,58]],
  [86,[44,48,52,56,60]],[88,[46,50,54,58]]
];

// lower fringe of the humidity cloud
const humidityNoLow = [
  [50,[9,11]],[52,[10,12]],[54,[11,13]],[55,[9,14]],[56,[12,13]],[57,[11,15]],[58,[13,14]],[59,[12,16]],[60,[14,15]],
  [61,[13,17]],[62,[15,16]],[63,[12,18]],[64,[16,17]],[65,[14,19]],[66,[17,18]],[67,[15,20]],[68,[18,19]],[69,[16,21]],
  [70,[19,22]],[71,[20,23]],[72,[19,23,25]],[73,[21,24]],[74,[20,24,25]],[75,[22,23]],[76,[22,25,26]],[77,[21,24,27]],
  [78,[23,26]],[79,[24,27]],[80,[20,26,27]],[81,[22,25,28]],[82,[21,26,29]],[84,[22,28]],[85,[26,30]],[86,[21,27]],
  [87,[28,31]],[88,[22,27]],[89,[25,30]],[90,[24,31]],[92,[26,30]],[94,[24,29]],[95,[26,31]],[96,[28,33]],
  [97,[26,32]],[98,[27,33]],[99,[25,31]]
];

// upper fringe of the orange cloud, mixing into the green corner
const humidityNoHigh = [
  [55,[53,59,64]],[57,[56,60,66]],[59,[57,62,68]],[60,[58,62,66]],[61,[60,64,70]],[62,[58,61,66]],[63,[59,62,68]],
  [64,[60,63,70]],[65,[61,64,68]],[66,[62,65,72]],[67,[63,66,70]],[68,[64,67,74]],[69,[65,66,70]],[70,[66,69,75]],
  [71,[66,68,72,76]],[72,[67,70,73,79]],[73,[68,70,74,77]],[74,[69,71,75,78]],[75,[69,72,74,79]],[76,[70,73,76,82]],
  [77,[70,72,76,80]],[78,[71,74,78,81]],[79,[72,73,77,80]],[80,[73,74,78,84]],[81,[71,72,75,77,82]],[82,[70,72,76,79,85]],
  [83,[72,73,76,78,83]],[84,[71,74,76,79,82]],[85,[70,72,75,77,80,85]],[86,[69,72,75,78,84]],[87,[71,73,75,79,81]],
  [88,[71,72,75,77,82]],[89,[72,73,76,78,80]],[90,[71,73,74,78,81]],[91,[72,73,75,78,83]],[92,[71,72,75,77,80]],
  [93,[70,73,74,78,80]],[94,[72,73,76,78,82]],[95,[71,73,74,76,79]],[96,[70,72,73,76,80]],[97,[72,75,76,80]],
  [98,[71,73,74,78,80]],[99,[72,74,75,79,81]]
];

const pressureXTicks = [980, 990, 1000, 1010, 1020, 1030, 1040];
const pressureYTicks = [990, 1000, 1010, 1020, 1030];
const humidityXTicks = [20, 40, 60, 80, 100];
const humidityYTicks = [0, 20, 40, 60, 80, 100];

// ---- Layout ----
const svg = d3.select('svg');
const colors = { Yes: '#66c2a5', No: '#fc8d62' };
const top_y = 31.7, bottom_y = 421.7;
const grid_color = '#cccccc';
const font = '"DejaVu Sans", sans-serif';

const columnsToPoints = (cols, hue) =>
  cols.flatMap(([x, ys]) => ys.map(y => ({ x, y, hue })));
const pairsToPoints = (pairs, hue) => pairs.map(([x, y]) => ({ x, y, hue }));

const panels = [
  {
    left: 85.3, right: 683.6,
    title: 'Pressure 9am vs 3pm', xlabel: 'Pressure9am', ylabel: 'Pressure3pm',
    yes: pairsToPoints(pressureYes.concat(pressureYesBand), 'Yes'),
    no: pairsToPoints(pressureNo.concat(pressureNoBand, pressureNoEdge), 'No'),
    xTicks: pressureXTicks, yTicks: pressureYTicks
  },
  {
    left: 775, right: 1373.3,
    title: 'Humidity 9am vs 3pm', xlabel: 'Humidity9am', ylabel: 'Humidity3pm',
    yes: columnsToPoints(humidityYes.concat(humidityYesTop, humidityYesMid), 'Yes'),
    no: columnsToPoints(humidityNo.concat(humidityNoCore, humidityNoDense, humidityNoLow, humidityNoHigh), 'No'),
    xTicks: humidityXTicks, yTicks: humidityYTicks
  }
];

// spread the green rows through the orange ones, like rows of a data frame
const mixOrder = (yes, no) => {
  const out = [];
  const step = no.length / Math.max(1, yes.length);
  let j = 0;
  yes.forEach((p, i) => {
    const upto = Math.round((i + 0.5) * step);
    while (j < upto && j < no.length) out.push(no[j++]);
    out.push(p);
  });
  while (j < no.length) out.push(no[j++]);
  // stride through the list so neighbouring columns are not drawn together
  const stride = 7, res = [];
  for (let s = 0; s < stride; s++) for (let k = s; k < out.length; k += stride) res.push(out[k]);
  return res;
};

const padded = ext => {
  const pad = (ext[1] - ext[0]) * 0.05;
  return [ext[0] - pad, ext[1] + pad];
};

panels.forEach(p => {
  const all = p.yes.concat(p.no);
  const x = d3.scaleLinear().domain(padded(d3.extent(all, d => d.x))).range([p.left, p.right]);
  const y = d3.scaleLinear().domain(padded(d3.extent(all, d => d.y))).range([bottom_y, top_y]);
  const g = svg.append('g');

  // grid
  g.append('g').selectAll('line').data(p.xTicks).enter().append('line')
    .attr('x1', d => x(d)).attr('x2', d => x(d))
    .attr('y1', top_y).attr('y2', bottom_y)
    .attr('stroke', grid_color).attr('stroke-width', 1.3);
  g.append('g').selectAll('line').data(p.yTicks).enter().append('line')
    .attr('y1', d => y(d)).attr('y2', d => y(d))
    .attr('x1', p.left).attr('x2', p.right)
    .attr('stroke', grid_color).attr('stroke-width', 1.3);

  // points
  const mixed = mixOrder(p.yes, p.no);
  const clipId = 'clip' + Math.round(p.left);
  svg.append('clipPath').attr('id', clipId).append('rect')
    .attr('x', p.left).attr('y', top_y).attr('width', p.right - p.left).attr('height', bottom_y - top_y);
  g.append('g').attr('clip-path', `url(#${clipId})`)
    .selectAll('circle').data(mixed).enter().append('circle')
    .attr('cx', d => x(d.x)).attr('cy', d => y(d.y)).attr('r', 2.6)
    .attr('fill', d => colors[d.hue])
    .attr('stroke', '#ffffff').attr('stroke-width', 0.35)
    .attr('opacity', 0.6);

  // spines
  g.append('rect')
    .attr('x', p.left).attr('y', top_y)
    .attr('width', p.right - p.left).attr('height', bottom_y - top_y)
    .attr('fill', 'none').attr('stroke', grid_color).attr('stroke-width', 1.6);

  // tick labels (no tick marks, seaborn whitegrid look)
  const fmt = d3.format('d');
  const xAxis = g.append('g').attr('transform', `translate(0,${bottom_y})`)
    .call(d3.axisBottom(x).tickValues(p.xTicks).tickFormat(fmt).tickSize(0).tickPadding(0));
  xAxis.select('.domain').remove();
  xAxis.selectAll('text').attr('y', 25.6).attr('dy', null)
    .style('font-size', '14.4px').style('font-family', font).attr('fill', '#262626');

  const yAxis = g.append('g').attr('transform', `translate(${p.left},0)`)
    .call(d3.axisLeft(y).tickValues(p.yTicks).tickFormat(fmt).tickSize(0).tickPadding(0));
  yAxis.select('.domain').remove();
  yAxis.selectAll('text').attr('x', -14.3).attr('dy', '0.36em')
    .style('font-size', '14.4px').style('font-family', font).attr('fill', '#262626');

  // title and labels
  const cx = (p.left + p.right) / 2;
  g.append('text').attr('x', cx).attr('y', 24.3).attr('text-anchor', 'middle')
    .style('font-size', '16px').text(p.title);
  g.append('text').attr('x', cx).attr('y', 470).attr('text-anchor', 'middle')
    .style('font-size', '16px').text(p.xlabel);
  g.append('text')
    .attr('transform', `translate(${p.left - 61.3},${(top_y + bottom_y) / 2}) rotate(-90)`)
    .attr('text-anchor', 'middle').style('font-size', '16px').text(p.ylabel);

  // legend
  const lg = g.append('g').attr('transform', `translate(${p.left + 8},${top_y + 9})`);
  lg.append('rect').attr('x', 0).attr('y', 0).attr('width', 129).attr('height', 74.3)
    .attr('rx', 3).attr('fill', '#ffffff').attr('fill-opacity', 0.8)
    .attr('stroke', '#d6d6d6').attr('stroke-width', 1);
  lg.append('text').attr('x', 7.4).attr('y', 19.3).style('font-size', '15.7px').text('RainTomorrow');
  hueLevels.forEach((h, i) => {
    lg.append('circle').attr('cx', 46).attr('cy', 38 + i * 22.3).attr('r', 2.2)
      .attr('fill', colors[h]).attr('opacity', 0.5);
    lg.append('text').attr('x', 74.4).attr('y', 43.3 + i * 22.3).style('font-size', '14.4px').text(h);
  });
});
</script>
</body>
</html>
